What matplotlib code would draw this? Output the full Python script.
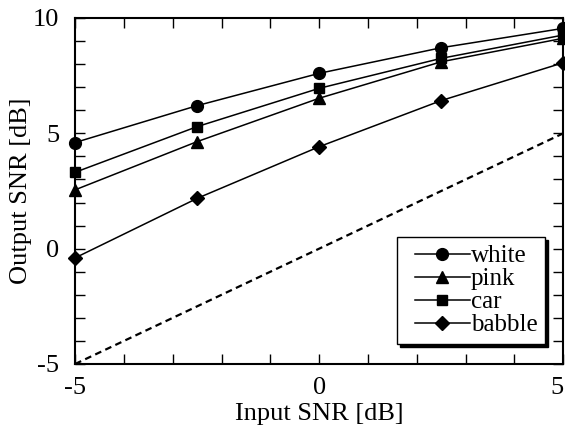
import numpy as np
import matplotlib
matplotlib.use('Agg')
from matplotlib import pyplot as plt
from matplotlib.ticker import MultipleLocator
from matplotlib.legend_handler import HandlerLine2D

plt.rcParams['font.family'] = ['Liberation Serif', 'DejaVu Serif']
plt.rcParams['axes.unicode_minus'] = False

snr_in = [-5, -2.5, 0, 2.5, 5]
white = [4.60, 6.20, 7.60, 8.71, 9.55]
pink = [2.55, 4.64, 6.52, 8.10, 9.12]
car = [3.31, 5.29, 6.95, 8.25, 9.26]
babble = [-0.40, 2.18, 4.42, 6.42, 8.06]
ref_x = [-5, 5]
ref_y = [-5, 5]

fig = plt.figure(figsize=(5.65, 4.38), dpi=100)
ax = fig.add_axes([0.133, 0.169, 0.864, 0.790])

ms = 8.5
ax.plot(snr_in, white, 'k-o', lw=1.1, ms=ms, label='white', clip_on=False, zorder=5)
ax.plot(snr_in, pink, 'k-^', lw=1.1, ms=ms, label='pink', clip_on=False, zorder=5)
ax.plot(snr_in, car, 'k-s', lw=1.1, ms=ms - 1, label='car', clip_on=False, zorder=5)
ax.plot(snr_in, babble, 'k-D', lw=1.1, ms=ms - 1, label='babble', clip_on=False, zorder=5)
ax.plot(ref_x, ref_y, 'k--', lw=1.6, dashes=(3, 2))

ax.set_xlim(-5, 5)
ax.set_ylim(-5, 10)
ax.set_xticks([-5, 0, 5])
ax.set_yticks([-5, 0, 5, 10])
ax.xaxis.set_minor_locator(MultipleLocator(1))
ax.yaxis.set_minor_locator(MultipleLocator(1))
ax.tick_params(which='both', direction='in', top=True, right=True,
               width=1.0, labelsize=19, length=7)
ax.tick_params(axis='x', pad=9.5)
ax.tick_params(axis='y', pad=11.5)
for s in ax.spines.values():
    s.set_linewidth(1.5)

# keep the last x label inside the figure
for lbl in ax.get_xticklabels():
    if lbl.get_text() == '5':
        lbl.set_horizontalalignment('right')

ax.set_xlabel('Input SNR [dB]', fontsize=19, labelpad=2.5)
ax.set_ylabel('Output SNR [dB]', fontsize=19, labelpad=0.5)

leg = ax.legend(loc='lower right', bbox_to_anchor=(0.963, 0.058), fontsize=18,
                fancybox=False, edgecolor='black', framealpha=1,
                shadow={'color': 'black', 'alpha': 1},
                handler_map={plt.Line2D: HandlerLine2D(xpad=0.4)},
                handlelength=2.6, handletextpad=0.05, labelspacing=0.02,
                borderpad=0.3, borderaxespad=0)
leg.get_frame().set_linewidth(1.0)

fig.savefig('out.png', dpi=100)
